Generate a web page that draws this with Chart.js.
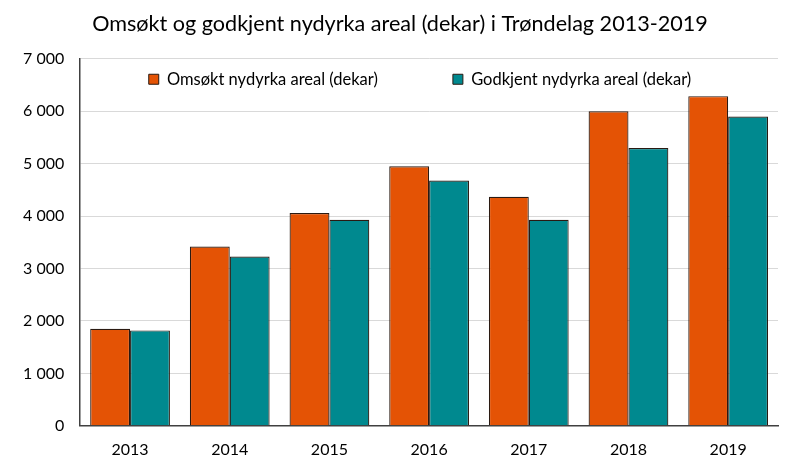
<!DOCTYPE html>
<html>
<head>
<meta charset="utf-8">
<script src="https://cdn.jsdelivr.net/npm/chart.js@4"></script>
<style>
  html, body { margin: 0; padding: 0; background: #fff; }
  #wrap { width: 800px; height: 475px; }
</style>
</head>
<body>
<div id="wrap"><canvas id="chart" width="800" height="475"></canvas></div>
<script>
const years = ['2013', '2014', '2015', '2016', '2017', '2018', '2019'];
const omsokt = [1850, 3420, 4060, 4950, 4370, 6000, 6290];
const godkjent = [1820, 3230, 3930, 4680, 3930, 5300, 5900];
const yTicks = [0, 1000, 2000, 3000, 4000, 5000, 6000, 7000];

const FONT = 'Lato, "Open Sans", sans-serif';
const LEGEND_GAP = 75;

// legend sits inside the plot area under the top gridline, title centred on the page
const legendInside = {
  id: 'legendInside',
  afterUpdate(chart) {
    const l = chart.legend;
    l.top = 71 - LEGEND_GAP;
    l.bottom = 110;
    l.left = 40;
    l.right = 800;
    l.adjustHitBoxes();
    const t = chart.titleBlock;
    t.left = 0;
    t.right = 800;
  }
};

function fmt(v) {
  return v.toLocaleString('en-US').replace(',', ' ');
}

new Chart(document.getElementById('chart').getContext('2d'), {
  type: 'bar',
  data: {
    labels: years,
    datasets: [
      {
        label: 'Omsøkt nydyrka areal (dekar)',
        data: omsokt,
        backgroundColor: '#E45305',
        borderColor: '#2a1a12',
        borderWidth: 1.2,
      },
      {
        label: 'Godkjent nydyrka areal (dekar)',
        data: godkjent,
        backgroundColor: '#00898F',
        borderColor: '#2a1a12',
        borderWidth: 1.2,
      },
    ],
  },
  options: {
    responsive: false,
    animation: false,
    devicePixelRatio: 1,
    layout: { padding: { left: 7, right: 22, top: 0, bottom: 2 } },
    datasets: { bar: { categoryPercentage: 0.8, barPercentage: 1.0 } },
    plugins: {
      title: {
        display: true,
        text: 'Omsøkt og godkjent nydyrka areal (dekar) i Trøndelag 2013-2019',
        color: '#000',
        font: { family: FONT, size: 21.6, weight: 'normal' },
        padding: { top: 11, bottom: 22 },
      },
      legend: {
        position: 'top',
        maxHeight: 0.01,
        labels: {
          color: '#000',
          font: { family: FONT, size: 16.5 },
          boxWidth: 10,
          boxHeight: 10,
          padding: LEGEND_GAP,
          generateLabels(chart) {
            return chart.data.datasets.map((ds, i) => ({
              text: ds.label,
              fillStyle: ds.backgroundColor,
              strokeStyle: ds.borderColor,
              lineWidth: 1,
              hidden: false,
              datasetIndex: i,
            }));
          },
        },
      },
      tooltip: { enabled: false },
    },
    scales: {
      x: {
        grid: { display: false, drawTicks: false },
        border: { color: '#404040', width: 1.5 },
        ticks: { color: '#000', padding: 14, font: { family: FONT, size: 16 } },
      },
      y: {
        min: 0,
        max: 7000,
        afterBuildTicks(axis) {
          axis.ticks = yTicks.map(v => ({ value: v }));
        },
        grid: { color: '#d9d9d9', lineWidth: 1, drawTicks: false },
        border: { color: '#404040', width: 1.5 },
        ticks: {
          color: '#000',
          padding: 16,
          font: { family: FONT, size: 16 },
          callback: v => fmt(v),
        },
      },
    },
  },
  plugins: [legendInside],
});
</script>
</body>
</html>
